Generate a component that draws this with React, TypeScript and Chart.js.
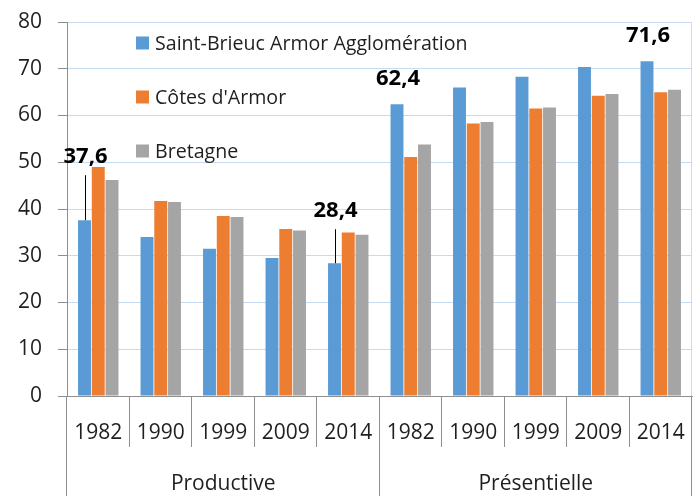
import React, { useEffect, useRef } from "react";
import { Chart, registerables } from "chart.js";

Chart.register(...registerables);

// ---- data ----
const years = ["1982", "1990", "1999", "2009", "2014", "1982", "1990", "1999", "2009", "2014"];
const groupNames = ["Productive", "Présentielle"];
const seriesNames = ["Saint-Brieuc Armor Agglomération", "Côtes d'Armor", "Bretagne"];
const saintBrieuc = [37.6, 34.0, 31.5, 29.5, 28.4, 62.4, 66.0, 68.3, 70.4, 71.6];
const cotesArmor = [49.0, 41.7, 38.5, 35.7, 35.0, 51.1, 58.3, 61.5, 64.2, 65.0];
const bretagne = [46.2, 41.5, 38.3, 35.4, 34.5, 53.8, 58.6, 61.7, 64.6, 65.5];
const labelledIndices = [0, 4, 5, 9];
const yMin = 0;
const yMax = 80;
const yStep = 10;

// ---- styles ----
const COLORS = ["#5B9BD5", "#ED7D31", "#A5A5A5"];
const FONT = "'Open Sans', 'Noto Sans', sans-serif";
const TEXT = "#1f1f1f";
const GRID = "#C6DAF2";
const AXIS = "#8E8E8E";
const labelRise = [57, 46, 19, 19];

const fmt = (v: number) => v.toFixed(1).replace(".", ",");

const decorPlugin = {
  id: "decor",
  afterDraw(chart: any) {
    const { ctx, chartArea } = chart;
    const { left, right, top, bottom } = chartArea;
    const n = years.length;
    const gw = (right - left) / n;
    const H = chart.height;
    ctx.save();
    // right border
    ctx.strokeStyle = GRID;
    ctx.lineWidth = 1;
    ctx.beginPath();
    ctx.moveTo(right - 0.5, top);
    ctx.lineTo(right - 0.5, bottom);
    ctx.stroke();
    // dividers
    ctx.strokeStyle = AXIS;
    const per = n / groupNames.length;
    for (let i = 0; i <= n; i++) {
      const x = Math.round(left + i * gw) - 0.5;
      const major = i % per === 0;
      ctx.beginPath();
      ctx.moveTo(x, bottom);
      ctx.lineTo(x, major ? H : bottom + 51);
      ctx.stroke();
    }
    // group labels
    ctx.fillStyle = TEXT;
    ctx.font = `21px ${FONT}`;
    ctx.textAlign = "center";
    ctx.textBaseline = "alphabetic";
    groupNames.forEach((g, gi) => {
      const cx = left + (gi * per + per / 2) * gw;
      ctx.fillText(g, cx, 490);
    });
    // legend
    ctx.font = `19.6px ${FONT}`;
    ctx.textAlign = "left";
    ctx.textBaseline = "middle";
    seriesNames.forEach((s, si) => {
      const cy = 43 + si * 54;
      ctx.fillStyle = COLORS[si];
      ctx.fillRect(136, cy - 6.5, 13, 13);
      ctx.fillStyle = TEXT;
      ctx.fillText(s, 155, cy + 1);
    });
    // data labels
    const meta = chart.getDatasetMeta(0);
    ctx.font = `bold 22px ${FONT}`;
    ctx.textAlign = "center";
    ctx.textBaseline = "alphabetic";
    labelledIndices.forEach((idx, k) => {
      const el = meta.data[idx];
      const rise = labelRise[k];
      const baseY = el.y - rise;
      ctx.fillStyle = "#000";
      ctx.fillText(fmt(saintBrieuc[idx]), el.x + 1, baseY);
      if (rise > 30) {
        ctx.strokeStyle = "#000";
        ctx.lineWidth = 1;
        ctx.beginPath();
        ctx.moveTo(Math.round(el.x) + 0.5, baseY + 12);
        ctx.lineTo(Math.round(el.x) + 0.5, el.y);
        ctx.stroke();
      }
    });
    ctx.restore();
  },
};

export default function App() {
  const ref = useRef<HTMLCanvasElement | null>(null);
  useEffect(() => {
    if (!ref.current) return;
    const datasets = [saintBrieuc, cotesArmor, bretagne].map((d, i) => ({
      label: seriesNames[i],
      data: d,
      backgroundColor: COLORS[i],
      borderWidth: 0,
      categoryPercentage: 0.66,
      barPercentage: 0.94,
    }));
    const chart = new Chart(ref.current, {
      type: "bar",
      data: { labels: years, datasets },
      options: {
        responsive: false,
        animation: false,
        layout: { padding: { top: 22, right: 8, left: 0, bottom: 0 } },
        plugins: { legend: { display: false }, tooltip: { enabled: false } },
        scales: {
          x: {
            grid: { display: false, drawTicks: false },
            border: { display: true, color: AXIS, width: 1 },
            ticks: { color: TEXT, font: { family: FONT, size: 21 }, padding: 24, maxRotation: 0, autoSkip: false },
            afterFit: (s: any) => {
              s.height = 100;
              s.paddingLeft = 0;
              s.paddingRight = 0;
            },
          },
          y: {
            min: yMin,
            max: yMax,
            ticks: { stepSize: yStep, color: TEXT, font: { family: FONT, size: 21 }, padding: 16 },
            grid: { color: GRID, tickColor: AXIS, tickLength: 9, lineWidth: 1 },
            border: { display: true, color: AXIS, width: 1 },
            afterFit: (s: any) => {
              s.width = 67;
              s.paddingTop = 0;
              s.paddingBottom = 0;
            },
          },
        },
      },
      plugins: [decorPlugin],
    } as any);
    return () => chart.destroy();
  }, []);
  return (
    <div style={{ position: "absolute", left: 0, top: 0, width: 700, height: 496, background: "#fff" }}>
      <canvas ref={ref} width={700} height={496} style={{ display: "block" }} />
    </div>
  );
}
